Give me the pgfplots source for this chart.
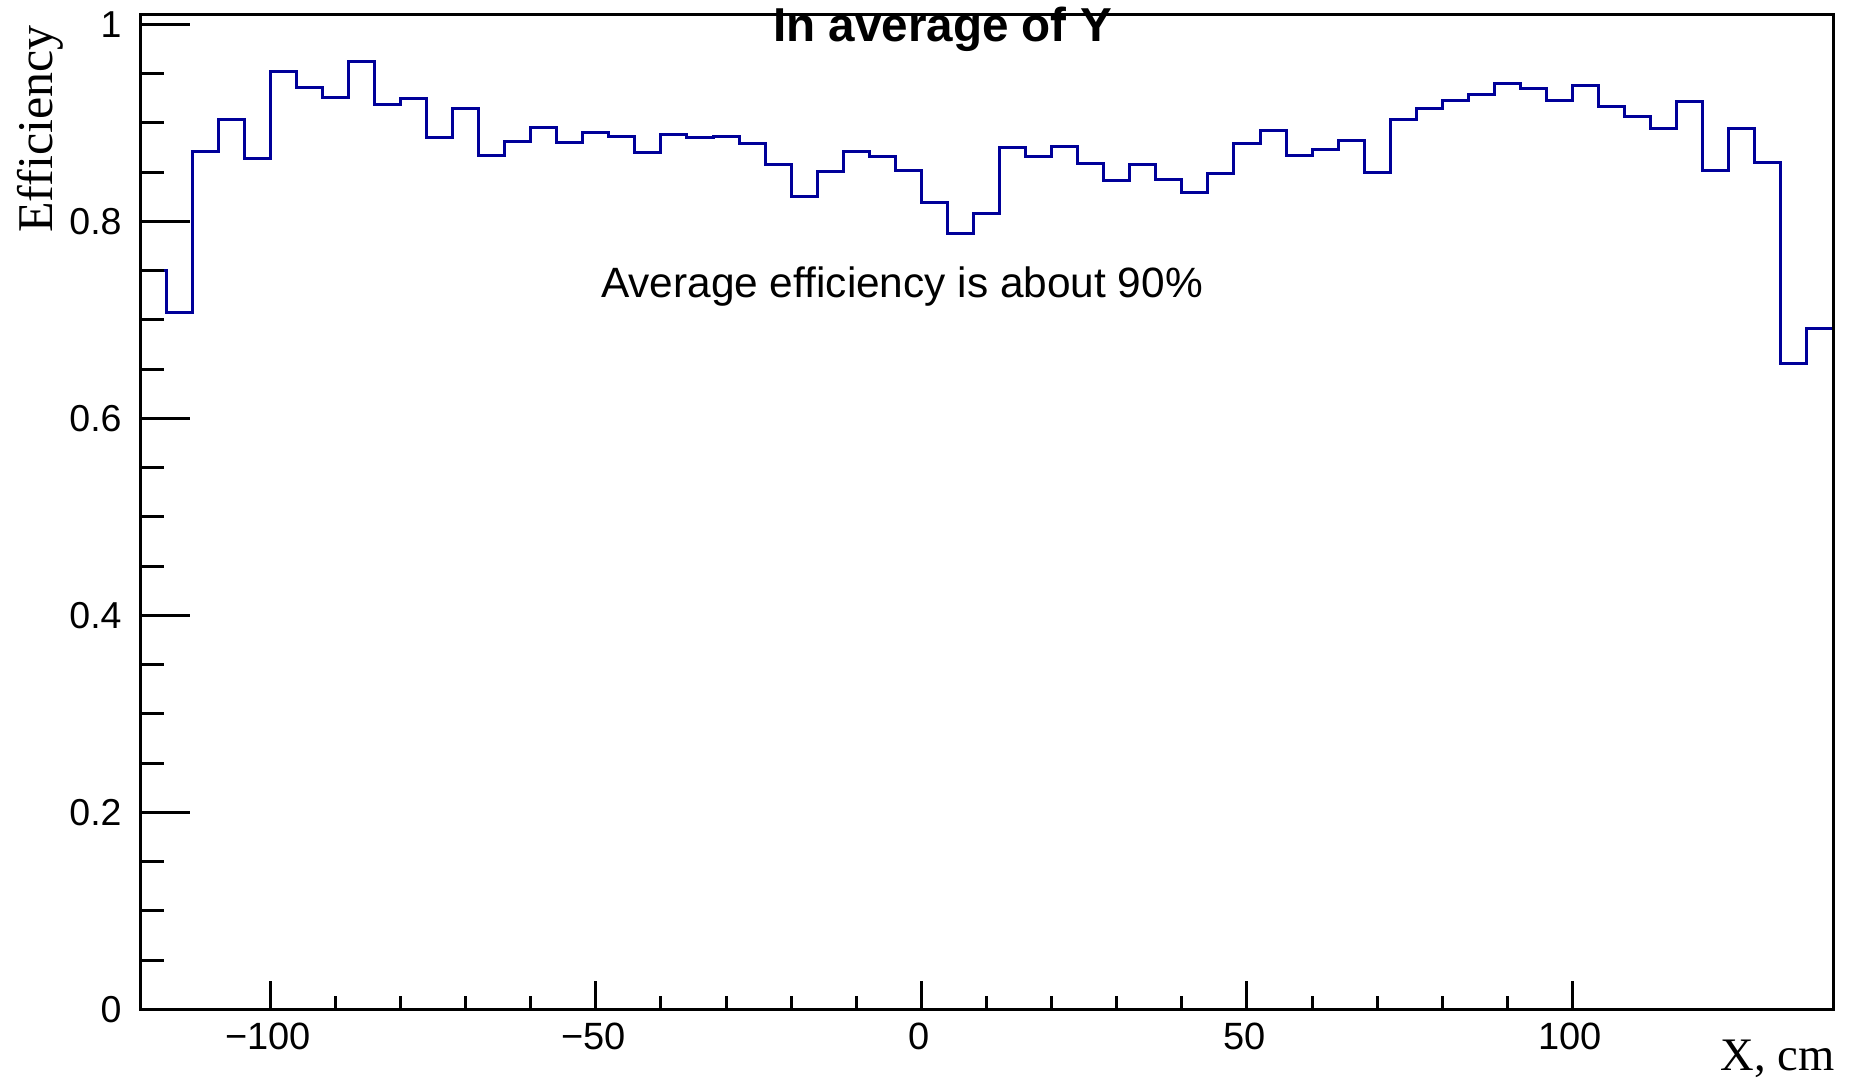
\documentclass[border=0pt]{standalone}
\usepackage{fontspec}
\setmainfont{Liberation Sans}
\newfontfamily\seriffont{Liberation Serif}
\usepackage{pgfplots}
\pgfplotsset{compat=1.18}
\definecolor{histblue}{RGB}{0,0,153}
\pgfplotsset{
  rootframe/.style={
    at={(70pt,36.75pt)}, anchor=south west, scale only axis,
    width=846.5pt, height=497.25pt,
    xmin=-120, xmax=140, ymin=0, ymax=1.0094,
    axis line style={line width=1.5pt, black},
    tick align=inside, xtick pos=bottom, ytick pos=left,
    every tick/.style={line width=1.5pt, black},
    every minor tick/.style={line width=1.5pt, black},
    /pgf/number format/assume math mode=true,
  }
}
\begin{document}
\begin{tikzpicture}
\useasboundingbox (0,0) rectangle (926pt,541.5pt);
\begin{axis}[rootframe,
  xtick={-100,-50,0,50,100},
  xticklabels={−100,−50,0,50,100},
  minor x tick num=4,
  ytick=\empty,
  major tick length=14.5pt, minor tick length=7pt,
  xticklabel style={font=\fontsize{19}{20}\selectfont, inner sep=0pt, anchor=north, yshift=-6.5pt, xshift=-1.2pt},
]
\addplot[const plot, histblue, line width=1.5pt] coordinates {
(-120,0.750) (-116,0.707) (-112,0.871) (-108,0.903) (-104,0.864)
(-100,0.952) (-96,0.936) (-92,0.926) (-88,0.962) (-84,0.919)
(-80,0.925) (-76,0.885) (-72,0.914) (-68,0.867) (-64,0.881)
(-60,0.895) (-56,0.880) (-52,0.890) (-48,0.886) (-44,0.870)
(-40,0.888) (-36,0.885) (-32,0.886) (-28,0.879) (-24,0.858)
(-20,0.825) (-16,0.851) (-12,0.871) (-8,0.866) (-4,0.852)
(0,0.819) (4,0.788) (8,0.808) (12,0.875) (16,0.866)
(20,0.876) (24,0.859) (28,0.841) (32,0.858) (36,0.842)
(40,0.829) (44,0.849) (48,0.879) (52,0.892) (56,0.867)
(60,0.873) (64,0.882) (68,0.850) (72,0.903) (76,0.915)
(80,0.923) (84,0.929) (88,0.940) (92,0.935) (96,0.923)
(100,0.938) (104,0.917) (108,0.906) (112,0.894) (116,0.922)
(120,0.852) (124,0.894) (128,0.860) (132,0.656) (136,0.691)
(140,0.691)
};
\end{axis}
\begin{axis}[rootframe,
  xtick=\empty,
  ytick={0,0.2,0.4,0.6,0.8,1},
  yticklabels={0,0.2,0.4,0.6,0.8,1},
  minor y tick num=3,
  major tick length=25pt, minor tick length=12pt,
  yticklabel style={font=\fontsize{18.75}{20}\selectfont, inner sep=0pt, anchor=east, xshift=-9pt},
]
\end{axis}
\node[anchor=base, font=\bfseries\fontsize{23.8}{25}\selectfont, inner sep=0pt] at (471.25pt,520.5pt) {In average of Y};
\node[anchor=base, font=\fontsize{21.2}{23}\selectfont, inner sep=0pt] at (451pt,392.5pt) {Average efficiency is about 90\%};
\node[anchor=base east, font=\seriffont\fontsize{23.3}{25}\selectfont, inner sep=0pt] at (917.5pt,6.5pt) {X, cm};
\node[anchor=base east, rotate=90, font=\seriffont\fontsize{25}{27}\selectfont, inner sep=0pt] at (26pt,529pt) {Efficiency};
\end{tikzpicture}
\end{document}
